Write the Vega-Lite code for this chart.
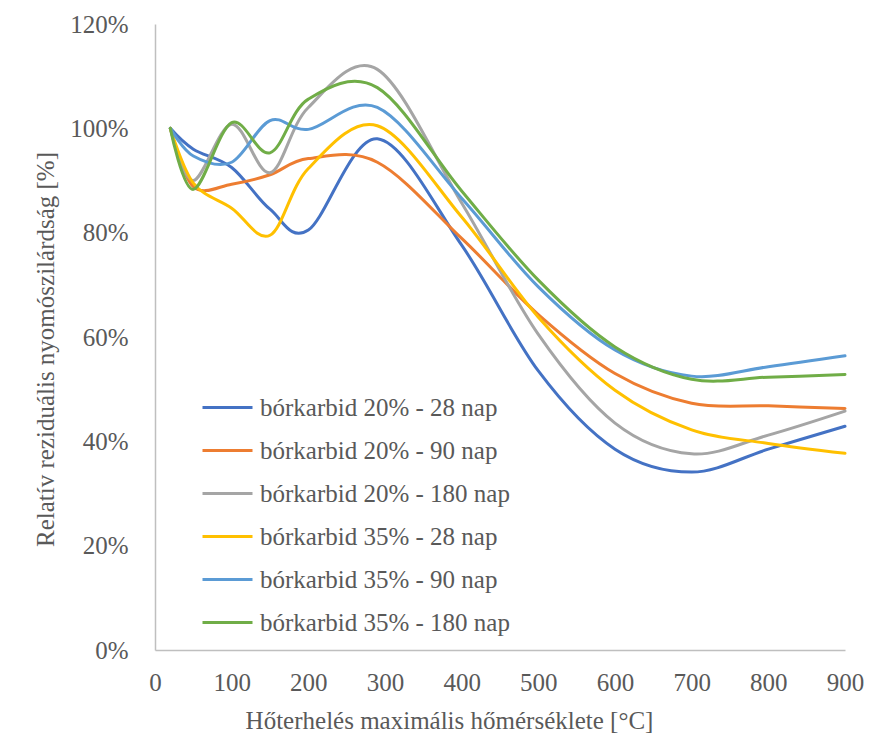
{
  "$schema": "https://vega.github.io/schema/vega-lite/v6.json",
  "width": 690,
  "height": 626,
  "autosize": {"type": "none"},
  "padding": {"left": 155, "top": 24, "right": 29, "bottom": 93},
  "background": "white",
  "config": {"view": {"stroke": null}, "font": "Liberation Serif"},
  "data": {"values": [
    {"s": "bórkarbid 20% - 28 nap", "T": 20, "v": 100},
    {"s": "bórkarbid 20% - 28 nap", "T": 50, "v": 96},
    {"s": "bórkarbid 20% - 28 nap", "T": 100, "v": 92.5},
    {"s": "bórkarbid 20% - 28 nap", "T": 150, "v": 84.5},
    {"s": "bórkarbid 20% - 28 nap", "T": 200, "v": 80.5},
    {"s": "bórkarbid 20% - 28 nap", "T": 290, "v": 98.0},
    {"s": "bórkarbid 20% - 28 nap", "T": 400, "v": 77.6},
    {"s": "bórkarbid 20% - 28 nap", "T": 500, "v": 53.5},
    {"s": "bórkarbid 20% - 28 nap", "T": 600, "v": 38.5},
    {"s": "bórkarbid 20% - 28 nap", "T": 700, "v": 34.1},
    {"s": "bórkarbid 20% - 28 nap", "T": 800, "v": 38.5},
    {"s": "bórkarbid 20% - 28 nap", "T": 900, "v": 42.9},
    {"s": "bórkarbid 20% - 90 nap", "T": 20, "v": 100},
    {"s": "bórkarbid 20% - 90 nap", "T": 50, "v": 88.8},
    {"s": "bórkarbid 20% - 90 nap", "T": 100, "v": 89.3},
    {"s": "bórkarbid 20% - 90 nap", "T": 150, "v": 91.1},
    {"s": "bórkarbid 20% - 90 nap", "T": 200, "v": 94.2},
    {"s": "bórkarbid 20% - 90 nap", "T": 290, "v": 93.5},
    {"s": "bórkarbid 20% - 90 nap", "T": 400, "v": 78.9},
    {"s": "bórkarbid 20% - 90 nap", "T": 500, "v": 64.3},
    {"s": "bórkarbid 20% - 90 nap", "T": 600, "v": 53},
    {"s": "bórkarbid 20% - 90 nap", "T": 700, "v": 47.3},
    {"s": "bórkarbid 20% - 90 nap", "T": 800, "v": 46.8},
    {"s": "bórkarbid 20% - 90 nap", "T": 900, "v": 46.3},
    {"s": "bórkarbid 20% - 180 nap", "T": 20, "v": 100},
    {"s": "bórkarbid 20% - 180 nap", "T": 50, "v": 90},
    {"s": "bórkarbid 20% - 180 nap", "T": 100, "v": 100.8},
    {"s": "bórkarbid 20% - 180 nap", "T": 150, "v": 91.5},
    {"s": "bórkarbid 20% - 180 nap", "T": 200, "v": 104},
    {"s": "bórkarbid 20% - 180 nap", "T": 290, "v": 111.3},
    {"s": "bórkarbid 20% - 180 nap", "T": 400, "v": 85.7},
    {"s": "bórkarbid 20% - 180 nap", "T": 500, "v": 60.5},
    {"s": "bórkarbid 20% - 180 nap", "T": 600, "v": 43.5},
    {"s": "bórkarbid 20% - 180 nap", "T": 700, "v": 37.6},
    {"s": "bórkarbid 20% - 180 nap", "T": 800, "v": 41.2},
    {"s": "bórkarbid 20% - 180 nap", "T": 900, "v": 45.8},
    {"s": "bórkarbid 35% - 28 nap", "T": 20, "v": 100},
    {"s": "bórkarbid 35% - 28 nap", "T": 50, "v": 89.5},
    {"s": "bórkarbid 35% - 28 nap", "T": 100, "v": 84.7},
    {"s": "bórkarbid 35% - 28 nap", "T": 150, "v": 79.5},
    {"s": "bórkarbid 35% - 28 nap", "T": 200, "v": 92.3},
    {"s": "bórkarbid 35% - 28 nap", "T": 290, "v": 100.5},
    {"s": "bórkarbid 35% - 28 nap", "T": 400, "v": 83},
    {"s": "bórkarbid 35% - 28 nap", "T": 500, "v": 63.8},
    {"s": "bórkarbid 35% - 28 nap", "T": 600, "v": 49.8},
    {"s": "bórkarbid 35% - 28 nap", "T": 700, "v": 42.2},
    {"s": "bórkarbid 35% - 28 nap", "T": 800, "v": 39.6},
    {"s": "bórkarbid 35% - 28 nap", "T": 900, "v": 37.7},
    {"s": "bórkarbid 35% - 90 nap", "T": 20, "v": 100},
    {"s": "bórkarbid 35% - 90 nap", "T": 50, "v": 94.7},
    {"s": "bórkarbid 35% - 90 nap", "T": 100, "v": 93.5},
    {"s": "bórkarbid 35% - 90 nap", "T": 150, "v": 101.5},
    {"s": "bórkarbid 35% - 90 nap", "T": 200, "v": 99.8},
    {"s": "bórkarbid 35% - 90 nap", "T": 290, "v": 104.0},
    {"s": "bórkarbid 35% - 90 nap", "T": 400, "v": 86.6},
    {"s": "bórkarbid 35% - 90 nap", "T": 500, "v": 69.6},
    {"s": "bórkarbid 35% - 90 nap", "T": 600, "v": 57.5},
    {"s": "bórkarbid 35% - 90 nap", "T": 700, "v": 52.5},
    {"s": "bórkarbid 35% - 90 nap", "T": 800, "v": 54.3},
    {"s": "bórkarbid 35% - 90 nap", "T": 900, "v": 56.4},
    {"s": "bórkarbid 35% - 180 nap", "T": 20, "v": 100},
    {"s": "bórkarbid 35% - 180 nap", "T": 50, "v": 88.3},
    {"s": "bórkarbid 35% - 180 nap", "T": 100, "v": 101.1},
    {"s": "bórkarbid 35% - 180 nap", "T": 150, "v": 95.3},
    {"s": "bórkarbid 35% - 180 nap", "T": 200, "v": 105.6},
    {"s": "bórkarbid 35% - 180 nap", "T": 290, "v": 107.8},
    {"s": "bórkarbid 35% - 180 nap", "T": 400, "v": 88},
    {"s": "bórkarbid 35% - 180 nap", "T": 500, "v": 70.9},
    {"s": "bórkarbid 35% - 180 nap", "T": 600, "v": 58.1},
    {"s": "bórkarbid 35% - 180 nap", "T": 700, "v": 51.9},
    {"s": "bórkarbid 35% - 180 nap", "T": 800, "v": 52.3},
    {"s": "bórkarbid 35% - 180 nap", "T": 900, "v": 52.8}
  ]},
  "mark": {"type": "line", "interpolate": "cardinal", "tension": 0, "strokeWidth": 3, "strokeCap": "round", "strokeJoin": "round"},
  "encoding": {
    "x": {
      "field": "T", "type": "quantitative",
      "scale": {"domain": [0, 900], "nice": false, "zero": false},
      "axis": {
        "values": [0, 100, 200, 300, 400, 500, 600, 700, 800, 900],
        "grid": false, "ticks": false, "labelFlush": false, "labelOverlap": false, "labelBound": false,
        "domainColor": "#BFBFBF", "domainWidth": 1.5,
        "labelFont": "Liberation Serif", "labelFontSize": 25, "labelColor": "#595959",
        "labelPadding": 20,
        "title": "Hőterhelés maximális hőmérséklete [°C]",
        "titleFont": "Liberation Serif", "titleFontSize": 25, "titleFontWeight": "normal", "titleColor": "#595959",
        "titleAlign": "center", "titleBaseline": "middle", "titleX": 294, "titleY": 70
      }
    },
    "y": {
      "field": "v", "type": "quantitative",
      "scale": {"domain": [0, 120], "nice": false},
      "axis": {
        "values": [0, 20, 40, 60, 80, 100, 120],
        "labelExpr": "datum.value + '%'",
        "grid": false, "ticks": false, "labelOverlap": false, "labelBound": false,
        "domainColor": "#BFBFBF", "domainWidth": 1.5,
        "labelFont": "Liberation Serif", "labelFontSize": 25, "labelColor": "#595959",
        "labelPadding": 27,
        "title": "Relatív reziduális nyomószilárdság [%]",
        "titleFont": "Liberation Serif", "titleFontSize": 25, "titleFontWeight": "normal", "titleColor": "#595959",
        "titleAlign": "center", "titleBaseline": "middle", "titleAngle": -90, "titleX": -110, "titleY": 325
      }
    },
    "color": {
      "field": "s", "type": "nominal",
      "scale": {
        "domain": ["bórkarbid 20% - 28 nap", "bórkarbid 20% - 90 nap", "bórkarbid 20% - 180 nap", "bórkarbid 35% - 28 nap", "bórkarbid 35% - 90 nap", "bórkarbid 35% - 180 nap"],
        "range": ["#4472C4", "#ED7D31", "#A5A5A5", "#FFC000", "#5B9BD5", "#70AD47"]
      },
      "legend": {
        "title": null, "orient": "none", "legendX": 46, "legendY": 357, "direction": "vertical",
        "symbolType": "stroke", "symbolSize": 2500, "symbolStrokeWidth": 3,
        "labelFont": "Liberation Serif", "labelFontSize": 25, "labelColor": "#595959",
        "labelOffset": 6, "rowPadding": 3, "labelLimit": 400
      }
    }
  }
}
